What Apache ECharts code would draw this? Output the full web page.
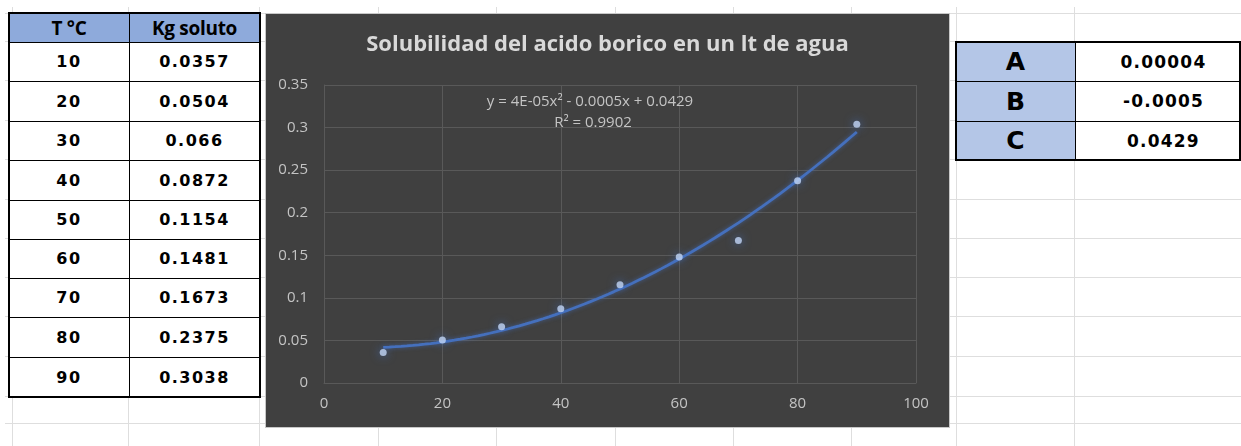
<!DOCTYPE html>
<html>
<head>
<meta charset="utf-8">
<script src="https://cdn.jsdelivr.net/npm/echarts@6/dist/echarts.min.js"></script>
<style>
  html, body { margin: 0; padding: 0; }
  body { width: 1241px; height: 446px; overflow: hidden; background: #fff; position: relative; }
  .gl { position: absolute; background: #dedede; }
  .cell { position: absolute; box-sizing: border-box; display: flex; align-items: center; justify-content: center;
          color: #000; white-space: nowrap; }
  .hdr { background: #8eaadb; font: bold 19px "Open Sans", sans-serif; letter-spacing: -0.3px; }
  .num { background: #fff; font: bold 16px "DejaVu Sans", sans-serif; letter-spacing: 1.5px; }
  .key { background: #b4c6e7; font: bold 25px "DejaVu Sans", sans-serif; }
  .val { background: #fff; font: bold 17px "DejaVu Sans", sans-serif; letter-spacing: 1.2px; }
  .frame { position: absolute; box-sizing: border-box; border: 2.5px solid #000; pointer-events: none; }
  .hl { position: absolute; background: #000; height: 1px; }
  .vl { position: absolute; background: #000; width: 1px; }
  #chart { position: absolute; left: 266px; top: 14px; width: 683px; height: 413px;
           background: #404040; outline: 1px solid #c8c8c8; }
</style>
</head>
<body>
<div id="sheet"></div>
<div id="chart"></div>
<script>
// ---- data ----
const tableHeaders = ['T °C', 'Kg soluto'];
const temps = [10, 20, 30, 40, 50, 60, 70, 80, 90];
const soluteKg = [0.0357, 0.0504, 0.066, 0.0872, 0.1154, 0.1481, 0.1673, 0.2375, 0.3038];
const coefNames = ['A', 'B', 'C'];
const coefValues = ['0.00004', '-0.0005', '0.0429'];
const chartTitle = 'Solubilidad del acido borico en un lt de agua';
const xTicks = [0, 20, 40, 60, 80, 100];
const yTicks = [0, 0.05, 0.1, 0.15, 0.2, 0.25, 0.3, 0.35];

// ---- spreadsheet background grid ----
const sheet = document.getElementById('sheet');
const colEdges = [13, 129, 260, 379, 497, 616, 734, 852, 957, 1075];
const rowEdges = [14, 42, 81, 121, 160, 200, 239, 278, 317, 357, 397, 424];
colEdges.forEach(x => {
  const d = document.createElement('div');
  d.className = 'gl';
  d.style.cssText = `left:${x - 1}px;top:7px;width:1px;height:439px;`;
  sheet.appendChild(d);
});
rowEdges.forEach(y => {
  const d = document.createElement('div');
  d.className = 'gl';
  d.style.cssText = `left:5px;top:${y - 1}px;width:1236px;height:1px;`;
  sheet.appendChild(d);
});

function addCell(cls, text, x0, y0, x1, y1) {
  const c = document.createElement('div');
  c.className = 'cell ' + cls;
  c.style.cssText = `left:${x0}px;top:${y0}px;width:${x1 - x0}px;height:${y1 - y0}px;`;
  c.textContent = text;
  sheet.appendChild(c);
}
function addFrame(x0, y0, x1, y1, cols, rows) {
  cols.forEach(x => {
    const v = document.createElement('div');
    v.className = 'vl';
    v.style.cssText = `left:${x}px;top:${y0}px;height:${y1 - y0}px;`;
    sheet.appendChild(v);
  });
  rows.forEach(y => {
    const h = document.createElement('div');
    h.className = 'hl';
    h.style.cssText = `left:${x0}px;top:${y}px;width:${x1 - x0}px;`;
    sheet.appendChild(h);
  });
  const f = document.createElement('div');
  f.className = 'frame';
  f.style.cssText = `left:${x0 - 1}px;top:${y0 - 1}px;width:${x1 - x0 + 2}px;height:${y1 - y0 + 2}px;`;
  sheet.appendChild(f);
}

// left table: temperature / solute mass
const lCols = [9, 129, 260];
const lRows = [13, 42, 81, 121, 160, 200, 239, 278, 317, 357, 397];
addCell('hdr', tableHeaders[0], lCols[0], lRows[0], lCols[1], lRows[1]);
addCell('hdr', tableHeaders[1], lCols[1], lRows[0], lCols[2], lRows[1]);
temps.forEach((t, i) => {
  addCell('num', String(t), lCols[0], lRows[i + 1], lCols[1], lRows[i + 2]);
  addCell('num', String(soluteKg[i]), lCols[1], lRows[i + 1], lCols[2], lRows[i + 2]);
});
addFrame(lCols[0], lRows[0], lCols[2], lRows[lRows.length - 1], [lCols[1]], lRows.slice(1, -1));

// right table: fitted coefficients
const rCols = [956, 1075, 1252];
const rRows = [42, 81, 121, 160];
coefNames.forEach((n, i) => {
  addCell('key', n, rCols[0], rRows[i], rCols[1], rRows[i + 1]);
  addCell('val', coefValues[i], rCols[1], rRows[i], rCols[2], rRows[i + 1]);
});
addFrame(rCols[0], rRows[0], 1240, rRows[rRows.length - 1], [rCols[1]], rRows.slice(1, -1));

// ---- least-squares quadratic trendline y = a x^2 + b x + c ----
function quadFit(xs, ys) {
  const s = [0, 0, 0, 0, 0], t = [0, 0, 0];
  xs.forEach((x, i) => {
    for (let k = 0; k <= 4; k++) s[k] += Math.pow(x, k);
    for (let k = 0; k <= 2; k++) t[k] += ys[i] * Math.pow(x, k);
  });
  const M = [[s[4], s[3], s[2], t[2]], [s[3], s[2], s[1], t[1]], [s[2], s[1], s[0], t[0]]];
  for (let i = 0; i < 3; i++) {
    for (let j = i + 1; j < 3; j++) {
      const f = M[j][i] / M[i][i];
      for (let k = i; k < 4; k++) M[j][k] -= f * M[i][k];
    }
  }
  const r = [0, 0, 0];
  for (let i = 2; i >= 0; i--) {
    let v = M[i][3];
    for (let k = i + 1; k < 3; k++) v -= M[i][k] * r[k];
    r[i] = v / M[i][i];
  }
  return { a: r[0], b: r[1], c: r[2] };
}
const fit = quadFit(temps, soluteKg);
const evalFit = x => fit.a * x * x + fit.b * x + fit.c;
const meanY = soluteKg.reduce((p, v) => p + v, 0) / soluteKg.length;
let ssRes = 0, ssTot = 0;
temps.forEach((x, i) => {
  ssRes += Math.pow(soluteKg[i] - evalFit(x), 2);
  ssTot += Math.pow(soluteKg[i] - meanY, 2);
});
const r2 = 1 - ssRes / ssTot;

function fmtCoef(v) {
  const r = +v.toFixed(4);
  if (r !== 0) return String(r);
  const [m, ex] = v.toExponential(0).split('e');
  const sign = ex[0] === '-' ? '-' : '+';
  return m + 'E' + sign + String(Math.abs(+ex)).padStart(2, '0');
}
const signed = v => (v < 0 ? '- ' : '+ ') + fmtCoef(Math.abs(v));
const eqText = 'y = ' + fmtCoef(fit.a) + 'x² ' + signed(fit.b) + 'x ' + signed(fit.c);
const r2Text = 'R² = ' + r2.toFixed(4);

const trendData = [];
for (let x = temps[0]; x <= temps[temps.length - 1]; x += 1) trendData.push([x, evalFit(x)]);

// ---- chart ----
const chart = echarts.init(document.getElementById('chart'), null, { renderer: 'canvas' });
const labelColor = '#c4c4c4';
const gridColor = '#595959';
chart.setOption({
  backgroundColor: '#404040',
  animation: false,
  title: {
    text: chartTitle,
    left: 'center',
    top: 20,
    padding: 0,
    textStyle: { color: '#d9d9d9', fontFamily: 'Open Sans', fontWeight: 'bold', fontSize: 22 }
  },
  grid: { left: 58, right: 33, top: 71, bottom: 44, containLabel: false },
  xAxis: {
    type: 'value',
    min: xTicks[0],
    max: xTicks[xTicks.length - 1],
    interval: xTicks[1] - xTicks[0],
    axisLine: { show: true, lineStyle: { color: gridColor, width: 1 } },
    axisTick: { show: false },
    splitLine: { show: true, lineStyle: { color: gridColor, width: 1 } },
    axisLabel: { color: labelColor, fontFamily: 'Open Sans', fontSize: 15, margin: 13 }
  },
  yAxis: {
    type: 'value',
    min: yTicks[0],
    max: yTicks[yTicks.length - 1],
    interval: yTicks[1] - yTicks[0],
    axisLine: { show: true, lineStyle: { color: gridColor, width: 1 } },
    axisTick: { show: false },
    splitLine: { show: true, lineStyle: { color: gridColor, width: 1 } },
    axisLabel: {
      color: labelColor, fontFamily: 'Open Sans', fontSize: 15, margin: 16,
      formatter: v => String(+v.toFixed(2))
    }
  },
  graphic: [
    {
      type: 'text', x: 324, y: 88, z: 10,
      style: { text: eqText, fill: labelColor, fontFamily: 'Open Sans', fontSize: 15,
               align: 'center', verticalAlign: 'middle' }
    },
    {
      type: 'text', x: 327, y: 109, z: 10,
      style: { text: r2Text, fill: labelColor, fontFamily: 'Open Sans', fontSize: 15,
               align: 'center', verticalAlign: 'middle' }
    }
  ],
  series: [
    {
      type: 'line',
      data: trendData,
      showSymbol: false,
      smooth: false,
      lineStyle: { color: '#4570bd', width: 2.75, shadowBlur: 4, shadowColor: 'rgba(68,114,196,0.6)' },
      z: 2
    },
    {
      type: 'scatter',
      data: temps.map((t, i) => [t, soluteKg[i]]),
      symbol: 'circle',
      symbolSize: 7,
      itemStyle: { color: '#c2d6f6', shadowBlur: 10, shadowColor: 'rgba(68,114,196,1)' },
      z: 3
    }
  ]
});
</script>
</body>
</html>
